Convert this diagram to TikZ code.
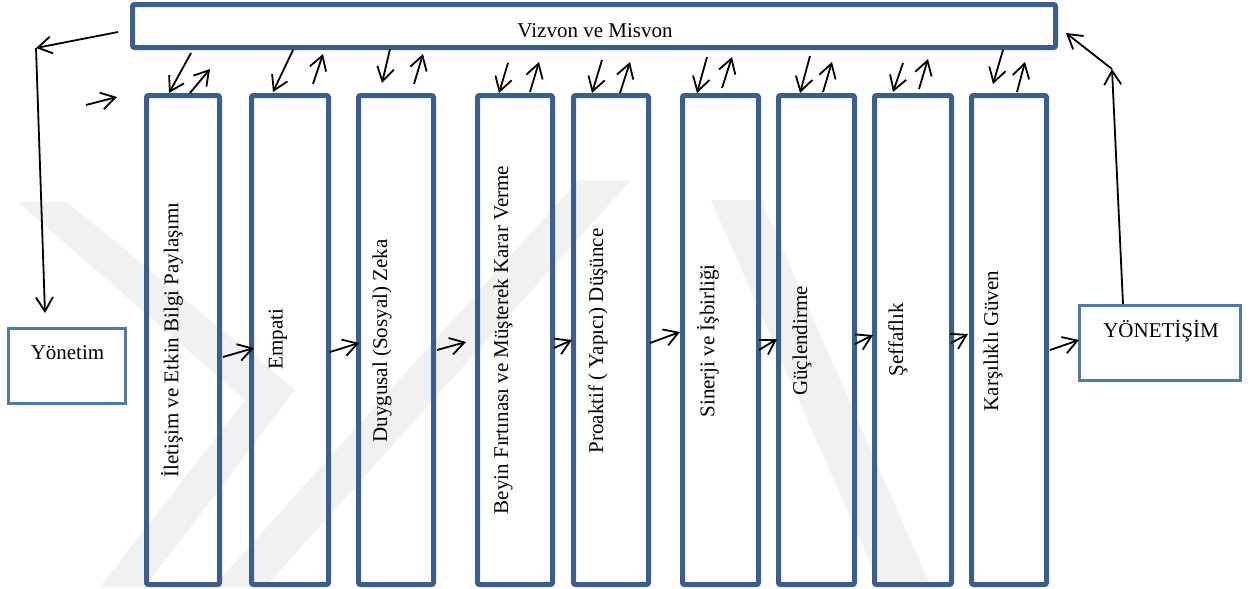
\documentclass[tikz,border=0pt]{standalone}
\usepackage{fontspec}
\setmainfont{Liberation Serif}
\usetikzlibrary{arrows.meta}
\definecolor{barblue}{RGB}{59,94,140}
\definecolor{thinblue}{RGB}{79,122,172}
\definecolor{markgray}{RGB}{241,241,241}

\begin{document}
\begin{tikzpicture}[x=1pt,y=-1pt,
  txt/.style={font=\fontsize{21}{25}\selectfont,inner sep=0pt,text=black},
  vtxt/.style={txt,rotate=90},
  pillar/.style={draw=barblue,line width=5pt,rounded corners=2pt,
    minimum width=#1,minimum height=489pt,inner sep=0pt},
  topbar/.style={draw=barblue,line width=5pt,rounded corners=2pt,
    minimum width=923pt,minimum height=43pt,inner sep=0pt},
  endbox/.style={draw=thinblue,line width=3pt,
    minimum width=#1,minimum height=75pt,inner sep=0pt},
  arr/.style={draw=black,line width=1.8pt,
    -{Straight Barb[length=14pt,width=17pt]}}]

\useasboundingbox (0,0) rectangle (1259,589);
\fill[white] (0,0) rectangle (1259,589);

% faint background mark
\begin{scope}[markgray]
  \fill (18,202) -- (67,202) -- (295,390) -- (145,587) -- (100,587) -- (245,400) -- cycle;
  \fill (213,587) -- (265,587) -- (631,180) -- (579,180) -- cycle;
  \fill (711,200) -- (761,200) -- (931,587) -- (881,587) -- cycle;
\end{scope}

% mission bar
\node[topbar] (bar) at (594,26) {};
\node[txt,anchor=base] (bart) at (595,37) {Vizvon ve Misvon};

% side boxes
\node[endbox=117pt] (yon) at (67,366) {};
\node[txt,anchor=base] (yont) at (67.5,359) {Yönetim};
\node[endbox=161pt] (yts) at (1160,343) {};
\node[txt,anchor=base] (ytst) at (1161,337) {YÖNETİŞİM};

% pillars
\node[pillar=73pt] (b1) at (183,340) {};
\node[pillar=77pt] (b2) at (290,340) {};
\node[pillar=75pt] (b3) at (396,340) {};
\node[pillar=75pt] (b4) at (515,340) {};
\node[pillar=75pt] (b5) at (611,340) {};
\node[pillar=76pt] (b6) at (720.5,340) {};
\node[pillar=76pt] (b7) at (816.5,340) {};
\node[pillar=77pt] (b8) at (913,340) {};
\node[pillar=75pt] (b9) at (1009,340) {};

\node[vtxt] (t1) at (172,340) {İletişim ve Etkin Bilgi Paylaşımı};
\node[vtxt] (t2) at (278,339) {Empati};
\node[vtxt] (t3) at (382,341) {Duygusal (Sosyal) Zeka};
\node[vtxt] (t4) at (503,340) {Beyin Fırtınası ve Müşterek Karar Verme};
\node[vtxt] (t5) at (598,341) {Proaktif ( Yapıcı) Düşünce};
\node[vtxt] (t6) at (708,341) {Sinerji ve İşbirliği};
\node[vtxt] (t7) at (802,341) {Güçlendirme};
\node[vtxt] (t8) at (898,340) {Şeffaflık};
\node[vtxt] (t9) at (993,341) {Karşılıklı Güven};

% arrow ends between the bar and each pillar
\foreach \i/\dsx/\dsy/\dex/\dey/\usx/\usy/\uex/\uey in {
  1/191/53/169/93/190/93/210/69,
  2/293/50/273/92/313/84/323/54,
  3/390/49/382/83/414/84/423/54,
  4/508/63/499/93/530/92/539/62,
  5/602/60/592/93/620/93/630/62,
  6/707/57/697/93/722/88/732/57,
  7/810/56/800/93/823/92/832/62,
  8/903/63/893/92/919/89/928/59,
  9/1003/50/993/84/1017/92/1025/62}{
  \coordinate (dn\i s) at (\dsx,\dsy);
  \coordinate (dn\i e) at (\dex,\dey);
  \coordinate (up\i s) at (\usx,\usy);
  \coordinate (up\i e) at (\uex,\uey);
  \draw[arr] (dn\i s) -- (dn\i e);
  \draw[arr] (up\i s) -- (up\i e);
}

% arrow ends along the chain
\foreach \i/\sx/\sy/\ex/\ey in {
  1/223/357/254/348,
  2/330/352/359/343,
  3/437/350/466/342,
  4/554/348/572/340,
  5/650/343/680/332,
  6/759/350/777/339,
  7/855/344/873/335,
  8/951/343/968/334,
  9/1050/350/1079/340}{
  \coordinate (hs\i) at (\sx,\sy);
  \coordinate (he\i) at (\ex,\ey);
  \draw[arr] (hs\i) -- (he\i);
}

% outer loop
\coordinate (barL) at (118,32);
\coordinate (cornL) at (36,48);
\coordinate (yonN) at (45,313);
\coordinate (inS) at (86,105);
\coordinate (inE) at (117,97);
\coordinate (ytsN) at (1123,304);
\coordinate (cornR) at (1112,69);
\coordinate (barR) at (1066,33);

\draw[arr] (barL) -- (cornL);
\draw[arr] (cornL) -- (yonN);
\draw[arr] (inS) -- (inE);
\draw[arr] (ytsN) -- (cornR);
\draw[arr] (cornR) -- (barR);
\end{tikzpicture}
\end{document}
